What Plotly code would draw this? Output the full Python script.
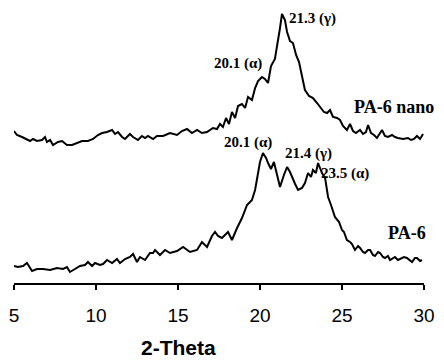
import plotly.graph_objects as go

# PA-6 nano (upper trace)
nano_2theta = [5.00, 5.18, 5.49, 5.79, 5.98, 6.16, 6.40, 6.71, 6.89, 7.01, 7.20, 7.38, 7.68, 7.93, 8.23, 8.54,
               8.84, 9.15, 9.51, 9.82, 10.12, 10.37, 10.67, 10.98, 11.16, 11.34, 11.59, 11.77, 12.07, 12.26,
               12.56, 12.80, 12.99, 13.17, 13.48, 13.72, 14.09, 14.51, 14.94, 15.24, 15.55, 15.85, 16.16,
               16.46, 16.77, 17.13, 17.38, 17.56, 17.74, 17.93, 18.11, 18.29, 18.48, 18.66, 18.90, 19.09,
               19.27, 19.51, 19.70, 19.88, 20.12, 20.30, 20.49, 20.67, 20.91, 21.10, 21.22, 21.34, 21.52,
               21.65, 21.83, 22.01, 22.20, 22.38, 22.56, 22.74, 22.99, 23.23, 23.48, 23.66, 23.90, 24.09,
               24.27, 24.45, 24.70, 24.88, 25.06, 25.30, 25.49, 25.67, 25.85, 26.10, 26.28, 26.46, 26.59,
               26.77, 26.95, 27.13, 27.32, 27.44, 27.62, 27.80, 28.05, 28.23, 28.41, 28.72, 29.02, 29.21,
               29.39, 29.57, 29.76, 29.94]
nano_intensity = [152, 148, 146, 144, 142, 144, 142, 143, 146, 141, 143, 138, 141, 142, 138, 138,
                  140, 142, 142, 144, 148, 150, 151, 153, 149, 151, 146, 144, 149, 146,
                  143, 147, 145, 147, 144, 147, 147, 150, 148, 152, 154, 150, 153,
                  150, 151, 155, 154, 159, 156, 165, 159, 171, 165, 177, 179, 175,
                  186, 183, 195, 202, 206, 204, 200, 217, 224, 241, 255, 269, 263,
                  251, 242, 240, 228, 221, 205, 193, 187, 185, 180, 176, 171, 170,
                  173, 166, 165, 163, 157, 153, 159, 152, 150, 153, 149, 151, 158,
                  150, 148, 145, 150, 153, 147, 146, 148, 146, 145, 144, 145, 143,
                  144, 147, 144, 149]

# PA-6 (lower trace)
pa6_2theta = [5.00, 5.24, 5.55, 5.79, 6.10, 6.40, 6.77, 7.20, 7.62, 7.99, 8.23, 8.41, 8.72, 9.02, 9.33,
              9.51, 9.76, 9.94, 10.24, 10.43, 10.67, 10.98, 11.28, 11.46, 11.77, 12.07, 12.26, 12.50,
              12.68, 12.99, 13.29, 13.48, 13.60, 13.90, 14.21, 14.51, 14.94, 15.31, 15.73, 16.16, 16.46,
              16.77, 17.07, 17.26, 17.44, 17.68, 18.05, 18.29, 18.60, 18.90, 19.21, 19.51, 19.70, 19.88,
              20.00, 20.18, 20.37, 20.49, 20.67, 20.85, 21.04, 21.22, 21.46, 21.65, 21.83, 22.01, 22.14,
              22.32, 22.56, 22.74, 22.93, 23.11, 23.23, 23.41, 23.54, 23.66, 23.78, 23.97, 24.15, 24.33,
              24.57, 24.82, 25.00, 25.12, 25.30, 25.49, 25.61, 25.79, 25.98, 26.10, 26.28, 26.40, 26.59,
              26.71, 26.89, 27.01, 27.20, 27.32, 27.50, 27.62, 27.80, 27.93, 28.11, 28.23, 28.41, 28.54,
              28.78, 28.96, 29.15, 29.27, 29.45, 29.57, 29.76, 29.88]
pa6_intensity = [17, 16, 17, 20, 12, 14, 14, 13, 15, 14, 16, 11, 14, 17, 18,
                 21, 17, 20, 18, 19, 23, 20, 24, 20, 24, 26, 29, 21,
                 26, 23, 30, 30, 33, 28, 33, 30, 32, 36, 31, 33, 41,
                 36, 47, 51, 47, 45, 51, 43, 55, 65, 78, 83, 93, 108,
                 121, 130, 125, 120, 114, 121, 108, 96, 108, 116, 111, 103, 99,
                 93, 95, 100, 110, 106, 113, 110, 120, 115, 110, 105, 86, 78,
                 66, 61, 53, 51, 43, 41, 39, 33, 37, 35, 31, 30, 33,
                 33, 28, 27, 31, 30, 26, 25, 27, 23, 25, 26, 23, 24,
                 26, 25, 22, 21, 25, 25, 22, 23]

tick_vals = [5, 10, 15, 20, 25, 30]
tick_text = ["5", "10", "15", "20", "25", "30"]

# peak labels: (text, 2theta, intensity)
label_text = ["21.3 (γ)", "20.1 (α)", "PA-6 nano", "20.1 (α)", "21.4 (γ)", "23.5 (α)", "PA-6"]
label_x = [21.62, 17.10, 25.62, 17.70, 21.42, 23.58, 27.70]
label_y = [265, 220, 176, 141, 130, 110, 50]
label_size = [15, 15, 18, 15, 15, 15, 18]

fig = go.Figure()
for xs, ys in [(nano_2theta, nano_intensity), (pa6_2theta, pa6_intensity)]:
    fig.add_trace(go.Scatter(x=xs, y=ys, mode="lines",
                             line=dict(color="black", width=2), showlegend=False,
                             hoverinfo="skip"))

for t, x, y, s in zip(label_text, label_x, label_y, label_size):
    fig.add_annotation(x=x, y=y, xref="x", yref="y", text="<b>" + t + "</b>",
                       showarrow=False, xanchor="left", yanchor="middle",
                       font=dict(family="Liberation Sans" if False else "Liberation Serif", size=s, color="black"))

fig.add_annotation(x=15.0, y=-0.228, xref="x", yref="paper", text="<b>2-Theta</b>",
                   showarrow=False, xanchor="center", yanchor="middle",
                   font=dict(family="Liberation Sans", size=21, color="black"))

fig.update_layout(
    width=444, height=361,
    margin=dict(l=14, r=20, t=0, b=78),
    paper_bgcolor="white", plot_bgcolor="white",
    xaxis=dict(range=[5, 30], tickvals=tick_vals, ticktext=tick_text,
               showline=True, linecolor="black", linewidth=2,
               ticks="outside", ticklen=5, tickwidth=2, tickcolor="black",
               showgrid=False, zeroline=False, ticklabelstandoff=9,
               tickfont=dict(family="Liberation Sans", size=19, color="black")),
    yaxis=dict(range=[0, 283], visible=False, showgrid=False, zeroline=False),
)

fig.write_html("out.html")
